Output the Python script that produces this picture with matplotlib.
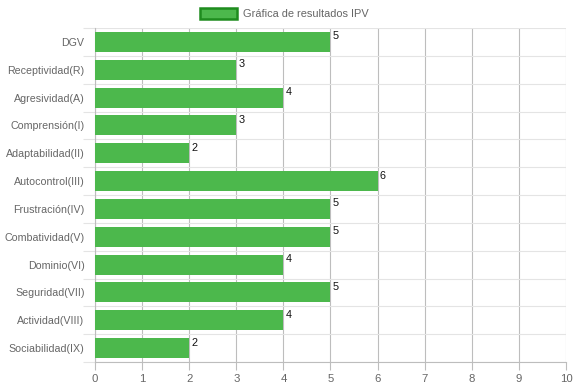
import numpy as np
import matplotlib.pyplot as plt
from matplotlib.patches import Patch

plt.rcParams['font.family'] = ['Liberation Sans', 'DejaVu Sans']

# data
categorias = ['DGV', 'Receptividad(R)', 'Agresividad(A)', 'Comprensión(I)',
              'Adaptabilidad(II)', 'Autocontrol(III)', 'Frustración(IV)',
              'Combatividad(V)', 'Dominio(VI)', 'Seguridad(VII)',
              'Actividad(VIII)', 'Sociabilidad(IX)']
valores = [5, 3, 4, 3, 2, 6, 5, 5, 4, 5, 4, 2]
serie = 'Gráfica de resultados IPV'

verde = '#4cb84c'
borde = '#1e8c1e'
gris_txt = '#666666'

fig = plt.figure(figsize=(5.75, 3.87), dpi=100)
ax = fig.add_axes([0.1652, 0.0646, 0.8191, 0.8630])

y = np.arange(len(categorias))
ax.barh(y, valores, height=0.72, color=verde, zorder=3)

for i, v in enumerate(valores):
    ax.annotate(str(v), (v, i - 0.38), xytext=(1.5, 0), textcoords='offset points',
                ha='left', va='top', fontsize=7.8, color='#111111', zorder=4)

ax.set_xlim(0, 10)
ax.set_ylim(len(categorias) - 0.5, -0.5)
ax.set_xticks(np.arange(0, 11, 1))
ax.set_yticks(y)
ax.set_yticklabels(categorias)
ax.set_yticks(np.arange(-0.5, len(categorias), 1), minor=True)

ax.tick_params(axis='y', which='major', length=0, pad=7.5, labelsize=7.7, labelcolor=gris_txt)
ax.tick_params(axis='y', which='minor', length=9, color='#e4e4e4', width=0.8)
ax.tick_params(axis='x', which='major', length=6, color='#bdbdbd', width=0.8,
               labelsize=8.2, labelcolor=gris_txt, pad=3)

ax.grid(axis='x', which='major', color='#bdbdbd', linewidth=0.8, zorder=1)
ax.grid(axis='y', which='minor', color='#e4e4e4', linewidth=0.8, zorder=1)

for s in ['top', 'right']:
    ax.spines[s].set_visible(False)
ax.spines['left'].set_color('#bdbdbd')
ax.spines['left'].set_linewidth(0.8)
ax.spines['bottom'].set_color('#bdbdbd')
ax.spines['bottom'].set_linewidth(0.8)

handle = Patch(facecolor=verde, edgecolor=borde, linewidth=1.8)
fig.legend([handle], [serie], loc='center', bbox_to_anchor=(0.494, 0.964),
           frameon=False, fontsize=7.9, labelcolor=gris_txt,
           handlelength=3.4, handleheight=1.1, handletextpad=0.55)

fig.savefig('out.png', dpi=100)
